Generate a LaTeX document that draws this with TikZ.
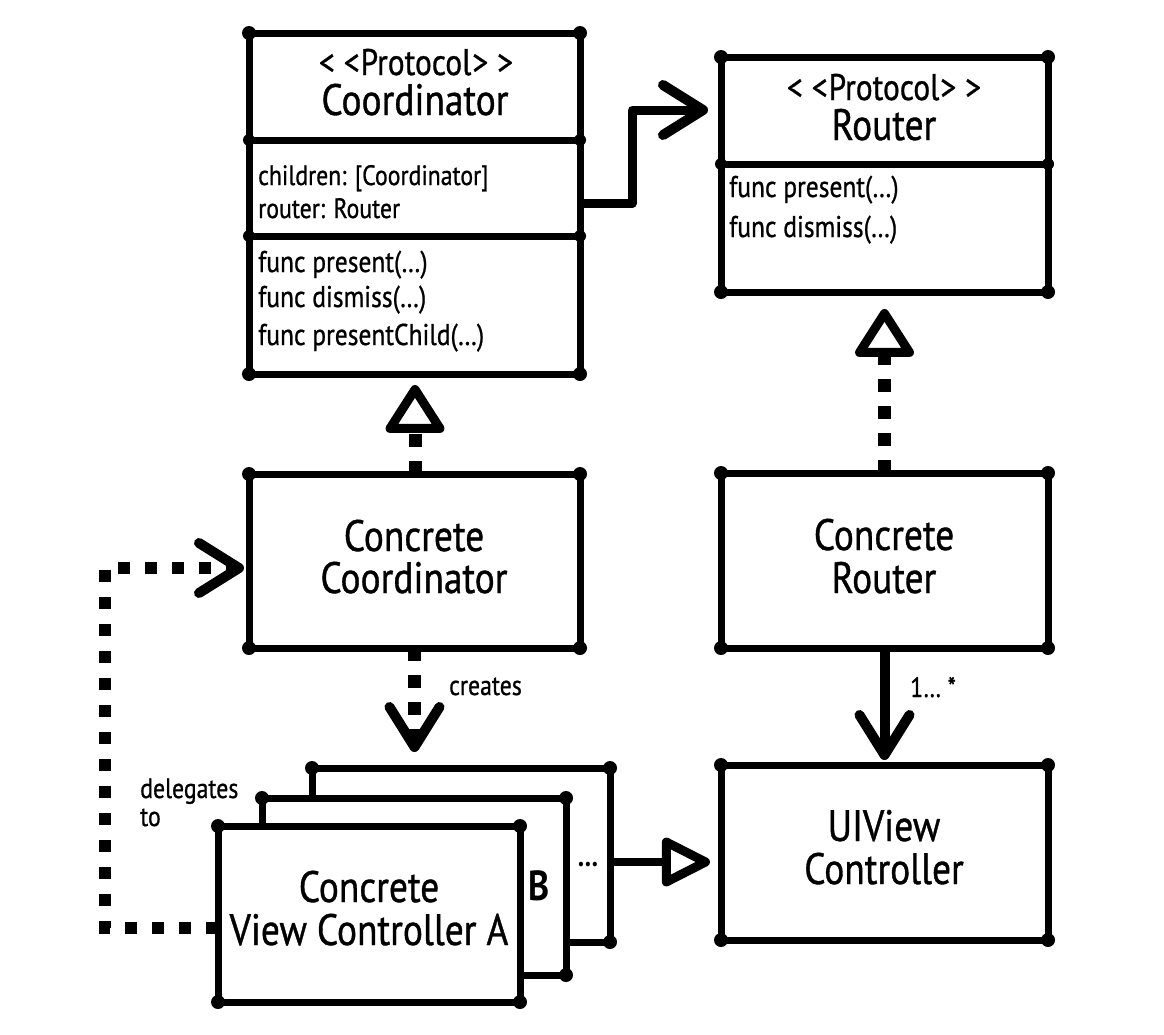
\documentclass[tikz,border=0pt]{standalone}
\usepackage{fontspec}
\setmainfont[FakeStretch=0.85, UprightFeatures={FakeBold=0.8}]{PT Sans}
\usetikzlibrary{arrows.meta,calc}
\newcommand\myblobs[1]{\foreach \a in {north west,north east,south west,south east}{\fill[blob] (#1.\a) circle (7pt);}}
\begin{document}
\begin{tikzpicture}[x=1pt,y=-1pt,
  box/.style={draw, line width=7pt, fill=white, rectangle, inner sep=0pt, outer sep=0pt, line join=round},
  divider/.style={line width=7pt},
  blob/.style={fill=black},
  titletxt/.style={font=\fontsize{44}{44}\selectfont, anchor=base, inner sep=0pt},
  stereotxt/.style={font=\fontsize{37}{38}\selectfont, anchor=base, inner sep=0pt},
  membertxt/.style={font=\fontsize{28}{30}\selectfont, anchor=base west, inner sep=0pt},
  methodtxt/.style={font=\fontsize{30}{30}\selectfont, anchor=base west, inner sep=0pt},
  labeltxt/.style={font=\fontsize{28}{28}\selectfont, anchor=base west, inner sep=0pt},
  dotted13/.style={line width=13pt, dash pattern=on 13pt off 14pt},
  dotted12/.style={line width=12pt, dash pattern=on 12pt off 15pt},
  realize/.style={dotted13, -{Triangle[fill=white, length=52pt, width=64pt, line width=9pt, round]}},
  barbtip/.style={-{Straight Barb[length=40pt, width=50pt, line width=10pt, round]}},
  gentip/.style={-{Triangle[fill=white, length=54pt, width=52pt, line width=9pt, round]}}
]
\fill[white] (0,0) rectangle (1164,1034);
\useasboundingbox (0,0) rectangle (1164,1034);

% ---------- boxes ----------
\node[box, minimum width=331pt, minimum height=341pt] (coord) at (414.5,203.5) {};
\myblobs{coord}
\node[box, minimum width=327pt, minimum height=235pt] (router) at (884.5,174.5) {};
\myblobs{router}
\node[box, minimum width=331pt, minimum height=174pt] (ccoord) at (414.5,561) {};
\myblobs{ccoord}
\node[box, minimum width=327pt, minimum height=175pt] (crouter) at (884.5,560.5) {};
\myblobs{crouter}
\node[box, minimum width=327pt, minimum height=175pt] (uiview) at (884.5,852.5) {};
\myblobs{uiview}
\node[box, minimum width=298pt, minimum height=174pt] (vcC) at (461,855) {};
\myblobs{vcC}
\node[box, minimum width=304pt, minimum height=177pt] (vcB) at (414,886.5) {};
\myblobs{vcB}
\node[box, minimum width=302pt, minimum height=176pt] (vcA) at (369,914) {};
\myblobs{vcA}

% dividers
\coordinate (cd1w) at (coord.west |- 0,140);
\coordinate (cd1e) at (coord.east |- 0,140);
\coordinate (cd2w) at (coord.west |- 0,236);
\coordinate (cd2e) at (coord.east |- 0,236);
\coordinate (rd1w) at (router.west |- 0,164);
\coordinate (rd1e) at (router.east |- 0,164);
\draw[divider] (cd1w) -- (cd1e);
\draw[divider] (cd2w) -- (cd2e);
\draw[divider] (rd1w) -- (rd1e);
\foreach \p in {cd1w,cd1e,cd2w,cd2e,rd1w,rd1e}
  \fill[blob] (\p) circle (6pt);

% ---------- texts ----------
\node[stereotxt] (cst) at (416,75) {<\kern9pt<\kern1pt Protocol\kern1pt>\kern9pt>};
\node[titletxt] (ctitle) at (415,115) {Coordinator};
\node[membertxt] (cf1) at (258,185) {children: [Coordinator]};
\node[membertxt] (cf2) at (258,218) {router: Router};
\node[methodtxt] (cm1) at (258,272) {func present(…)};
\node[methodtxt] (cm2) at (258,307) {func dismiss(…)};
\node[methodtxt] (cm3) at (258,345) {func presentChild(…)};

\node[stereotxt] (rst) at (884,100) {<\kern9pt<\kern1pt Protocol\kern1pt>\kern9pt>};
\node[titletxt] (rtitle) at (884,140) {Router};
\node[methodtxt] (rm1) at (729,197) {func present(…)};
\node[methodtxt] (rm2) at (729,237) {func dismiss(…)};

\node[titletxt] (cc1) at (414,551) {Concrete};
\node[titletxt] (cc2) at (414,593) {Coordinator};
\node[titletxt] (cr1) at (884,550) {Concrete};
\node[titletxt] (cr2) at (884,593) {Router};
\node[titletxt] (ui1) at (884,841) {UIView};
\node[titletxt] (ui2) at (884,884) {Controller};
\node[titletxt] (va1) at (369,902) {Concrete};
\node[titletxt] (va2) at (369,945) {View Controller A};
\node[titletxt, font=\fontsize{42}{42}\bfseries] (vb) at (539,900) {B};
\node[labeltxt, anchor=base, font=\fontsize{30}{30}\bfseries] (vdots) at (588,866) {…};

\node[labeltxt] (lcreates) at (449,695) {creates};
\node[labeltxt] (lmult) at (910,697) {1… *};
\node[labeltxt] (ldel1) at (140,798) {delegates};
\node[labeltxt] (ldel2) at (140,826) {to};

% ---------- connectors ----------
\coordinate (abend) at (632,110);
\coordinate (rin) at (router.west |- abend);
\draw[line width=9pt, line join=round, barbtip, shorten >=13pt] (coord.east) -| (abend) -- (rin);

\draw[realize, shorten >=11pt] (ccoord.north -| 415,0) -- (coord.south -| 415,0);
\draw[realize, shorten >=17pt] (crouter.north) -- (router.south);

\draw[dotted13, barbtip, shorten >=16pt] (ccoord.south) -- (ccoord.south |- vcC.north);
\draw[line width=10pt, barbtip, shorten >=5pt] (crouter.south) -- (uiview.north);

\coordinate (gstart) at ($(vcC.east)+(0,7)$);
\coordinate (gend) at (uiview.west |- gstart);
\draw[line width=8pt, gentip, shorten >=11pt] (gstart) -- (gend);

\coordinate (dstart) at ($(vcA.west)+(0,14)$);
\coordinate (dcorner) at (105,928);
\coordinate (dend) at ($(ccoord.west)+(0,7)$);
\draw[dotted12, barbtip, shorten >=5pt] (dstart) -- (dcorner) |- (dend);
\end{tikzpicture}
\end{document}
